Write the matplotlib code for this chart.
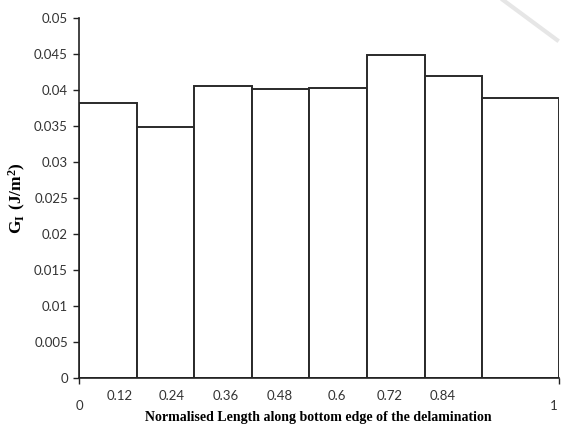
import numpy as np
import matplotlib
matplotlib.use('Agg')
from matplotlib import pyplot as plt
from matplotlib.lines import Line2D

# bin edges (normalised length) and G_I per bin
edges = [0, 0.12, 0.24, 0.36, 0.48, 0.6, 0.72, 0.84, 1.0]
g_values = [0.0382, 0.0348, 0.0406, 0.0402, 0.0403, 0.0449, 0.0420, 0.0389]
y_ticks = [0, 0.005, 0.01, 0.015, 0.02, 0.025, 0.03, 0.035, 0.04, 0.045, 0.05]
x_labels = ['0', '0.12', '0.24', '0.36', '0.48', '0.6', '0.72', '0.84', '1']
x_label_pos = [0.0, 0.085, 0.194, 0.306, 0.419, 0.537, 0.648, 0.758, 0.99]

plt.rcParams['mathtext.fontset'] = 'custom'
plt.rcParams['mathtext.rm'] = 'Liberation Serif'
plt.rcParams['mathtext.bf'] = 'Liberation Serif:bold'

fig = plt.figure(figsize=(5.61, 4.26), dpi=100)
ax = fig.add_axes([79 / 561, 1 - 378 / 426, 480 / 561, 360 / 426])

lefts = np.array(edges[:-1])
widths = np.diff(edges)
ax.bar(lefts, g_values, width=widths, align='edge', color='white',
       edgecolor='#2a2a2a', linewidth=1.4)

ax.set_xlim(0, 1)
ax.set_ylim(0, 0.05)
ax.spines['top'].set_visible(False)
ax.spines['right'].set_visible(False)
for s in ['left', 'bottom']:
    ax.spines[s].set_color('#222222')
    ax.spines[s].set_linewidth(1.2)

ax.set_yticks(y_ticks)
ax.set_yticklabels(['%g' % v for v in y_ticks], fontfamily='Lato',
                   fontsize=9.5, color='#333333')
ax.tick_params(axis='y', length=4, width=1, color='#222222', pad=4)
ax.set_xticks([0, 1])
ax.set_xticklabels(['', ''])
ax.tick_params(axis='x', length=4, width=1, color='#222222')

# staggered Excel-style category labels
trans = ax.get_xaxis_transform()
for lab, xp in zip(x_labels, x_label_pos):
    yoff = -0.078 if lab in ('0', '1') else -0.05
    ax.text(xp, yoff, lab, transform=trans, ha='center', va='center',
            fontfamily='Lato', fontsize=9.5, color='#333333')

fig.text(318 / 561, 1 - 417 / 426,
         'Normalised Length along bottom edge of the delamination',
         ha='center', va='center', fontfamily='Liberation Serif',
         fontweight='bold', fontsize=10)
fig.text(17 / 561, 1 - 198 / 426, r'$\mathbf{G_I\ (J/m^2)}$',
         rotation=90, ha='center', va='center', fontsize=12.5)

# faint watermark stroke in the corner
fig.add_artist(Line2D([503 / 561, 557 / 561], [1.0, 1 - 40 / 426],
                      transform=fig.transFigure, color='#e6e6e6', linewidth=3))

fig.savefig('out.png', dpi=100)
